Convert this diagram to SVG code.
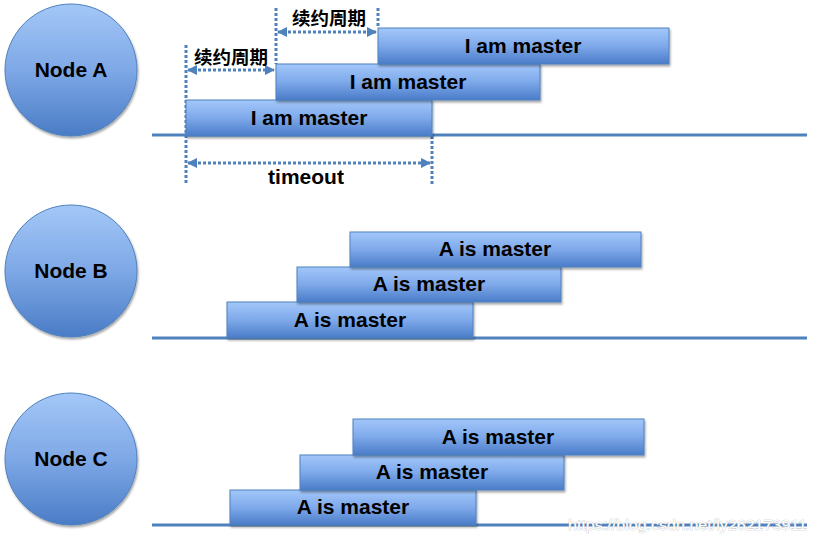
<svg xmlns="http://www.w3.org/2000/svg" width="814" height="543" viewBox="0 0 814 543">
<defs>
<linearGradient id="barG" x1="0" y1="0" x2="0" y2="1">
<stop offset="0" stop-color="#a3c7fa"/>
<stop offset="0.5" stop-color="#7ea9ea"/>
<stop offset="1" stop-color="#4a7cc8"/>
</linearGradient>
<linearGradient id="cirG" x1="0" y1="0" x2="0" y2="1">
<stop offset="0" stop-color="#a3c7f7"/>
<stop offset="0.5" stop-color="#7ea8e6"/>
<stop offset="1" stop-color="#4a7cc6"/>
</linearGradient>
<filter id="sh" x="-10%" y="-10%" width="120%" height="140%">
<feDropShadow dx="1" dy="2" stdDeviation="1.2" flood-color="#000" flood-opacity="0.35"/>
</filter>
<marker id="ah" viewBox="0 0 10 10" refX="9" refY="5" markerWidth="3.5" markerHeight="3.5" orient="auto-start-reverse" markerUnits="strokeWidth">
<path d="M0,0 L10,5 L0,10 z" fill="#4f81bd"/>
</marker>
<style>
.bar{fill:url(#barG);stroke:#4f81bd;stroke-width:1;filter:url(#sh)}
.cir{fill:url(#cirG);stroke:#4f81bd;stroke-width:1;filter:url(#sh)}
.base{stroke:#4f81bd;stroke-width:3;fill:none}
.t{font-family:"Liberation Sans",Arial,sans-serif;font-weight:bold;font-size:21px;fill:#000;text-anchor:middle}
.cn{font-family:"Noto Sans CJK SC","Liberation Sans",sans-serif;font-weight:bold;font-size:18.5px;fill:#000;text-anchor:middle}
.vd{stroke:#4f81bd;stroke-width:3;stroke-dasharray:3 2;fill:none}
.ar{stroke:#4f81bd;stroke-width:3;stroke-dasharray:3 2;fill:none;marker-start:url(#ah);marker-end:url(#ah)}
.wm{font-family:"Liberation Sans",Arial,sans-serif;font-size:14px;fill:#fff;stroke:#bbb;stroke-width:0.6;paint-order:stroke}
</style>
</defs>
<rect width="814" height="543" fill="#fff"/>

<g id="connectors">
<line class="base" x1="152" y1="135" x2="807" y2="135"/>
<line class="base" x1="152" y1="338" x2="807" y2="338"/>
<line class="base" x1="152" y1="525" x2="807" y2="525"/>
<line class="vd" x1="186" y1="45" x2="186" y2="184"/>
<line class="vd" x1="276" y1="8" x2="276" y2="64"/>
<line class="vd" x1="378" y1="8" x2="378" y2="28"/>
<line class="vd" x1="432" y1="136" x2="432" y2="184"/>
<line class="ar" x1="188" y1="70" x2="274" y2="70"/>
<line class="ar" x1="278" y1="32" x2="376" y2="32"/>
<line class="ar" x1="188" y1="163" x2="430" y2="163"/>
</g>

<g id="nodeA">
<circle class="cir" cx="71" cy="70" r="66"/>
<text class="t" x="71" y="77">Node A</text>
</g>
<g id="nodeB">
<circle class="cir" cx="71" cy="271" r="66"/>
<text class="t" x="71" y="278">Node B</text>
</g>
<g id="nodeC">
<circle class="cir" cx="71" cy="459" r="66"/>
<text class="t" x="71" y="466">Node C</text>
</g>

<g id="barA1"><rect class="bar" x="186" y="100" width="246" height="36"/><text class="t" x="309" y="125">I am master</text></g>
<g id="barA2"><rect class="bar" x="276" y="64" width="264" height="36"/><text class="t" x="408" y="89">I am master</text></g>
<g id="barA3"><rect class="bar" x="378" y="28" width="291" height="36"/><text class="t" x="523" y="53">I am master</text></g>

<g id="labels">
<text class="cn" x="231" y="64">续约周期</text>
<text class="cn" x="329" y="25">续约周期</text>
<text class="t" x="306" y="184">timeout</text>
</g>

<g id="barB1"><rect class="bar" x="227" y="302" width="246" height="36"/><text class="t" x="350" y="327">A is master</text></g>
<g id="barB2"><rect class="bar" x="297" y="267" width="264" height="35"/><text class="t" x="429" y="291">A is master</text></g>
<g id="barB3"><rect class="bar" x="350" y="232" width="291" height="35"/><text class="t" x="495" y="256">A is master</text></g>

<g id="barC1"><rect class="bar" x="230" y="490" width="246" height="35"/><text class="t" x="353" y="514">A is master</text></g>
<g id="barC2"><rect class="bar" x="300" y="455" width="264" height="35"/><text class="t" x="432" y="479">A is master</text></g>
<g id="barC3"><rect class="bar" x="353" y="419" width="291" height="36"/><text class="t" x="498" y="444">A is master</text></g>

<text class="wm" x="568" y="530" textLength="239" lengthAdjust="spacingAndGlyphs">https://blog.csdn.net/ly262173911</text>
</svg>
